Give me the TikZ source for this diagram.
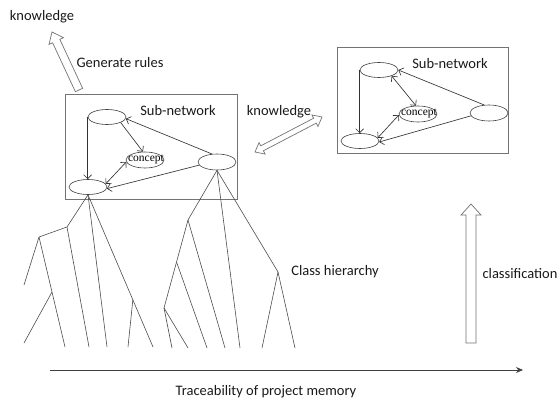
\documentclass[tikz,border=0pt]{standalone}
\usepackage{fontspec}
\setmainfont{Carlito}
\newfontfamily\conceptfont{Liberation Serif}
\usetikzlibrary{arrows.meta,calc,shapes.geometric}
\newcommand{\myhollow}[5]{%
  \coordinate (#1H) at ($(#2)!#5!(#1)$);
  \draw[hollow] ($(#1)!#3!90:(#2)$) -- ($(#1H)!#3!90:(#2)$) -- ($(#1H)!#4!90:(#2)$) -- (#2)
    -- ($(#1H)!#4!-90:(#2)$) -- ($(#1H)!#3!-90:(#2)$) -- ($(#1)!#3!-90:(#2)$) -- cycle;}
\newcommand{\mydouble}[5]{%
  \coordinate (#1H) at ($(#1)!#5!(#2)$);
  \coordinate (#2H) at ($(#2)!#5!(#1)$);
  \draw[hollow] (#1) -- ($(#1H)!#4!90:(#2)$) -- ($(#1H)!#3!90:(#2)$) -- ($(#2H)!#3!-90:(#1)$)
    -- ($(#2H)!#4!-90:(#1)$) -- (#2) -- ($(#2H)!#4!90:(#1)$) -- ($(#2H)!#3!90:(#1)$)
    -- ($(#1H)!#3!-90:(#2)$) -- ($(#1H)!#4!-90:(#2)$) -- cycle;}
\begin{document}
\begin{tikzpicture}[x=1pt,y=-1pt,
  lbl/.style={font=\fontsize{14.5}{17}\selectfont, text=black!90, inner sep=0pt},
  ell/.style={draw=black!75, fill=white, ellipse, minimum width=38pt, minimum height=15pt, inner sep=0pt, line width=0.6pt},
  cpt/.style={font=\conceptfont\fontsize{11.5}{13}\selectfont, inner sep=0pt},
  netbox/.style={draw=black!55, line width=0.9pt, inner sep=0pt},
  edge/.style={draw=black!80, line width=0.65pt, -{Straight Barb[length=4pt,width=8pt]}},
  dedge/.style={draw=black!80, line width=0.65pt, {Straight Barb[length=4pt,width=8pt]}-{Straight Barb[length=4pt,width=8pt]}},
  branch/.style={draw=black!70, line width=0.6pt},
  hollow/.style={draw=black!55, fill=white, line width=0.7pt, line join=miter},
  axis/.style={draw=black!75, line width=0.8pt, -{Stealth[length=7pt,width=6pt]}}]
\useasboundingbox (0,0) rectangle (559,401);

% boxes
\node[netbox, minimum width=172pt, minimum height=105pt] (boxL) at (151,146.5) {};
\node[netbox, minimum width=171pt, minimum height=106pt] (boxR) at (422.5,100) {};

% left sub-network
\node[lbl] (subL) at (178,111) {Sub-network};
\node[ell] (tl) at (107,117) {};
\node[ell, minimum height=16pt] (cc) at (145,160) {};
\node[cpt] (cctext) at (146,159) {concept};
\node[ell, minimum height=16pt] (rr) at (217,162) {};
\node[ell] (bl) at (88,187) {};
\draw[edge] (tl.west) -- (tl.west |- bl.north);
\draw[edge] (tl.-22) -- (cc.104);
\draw[dedge] (cc.186) -- (bl.10);
\draw[edge] (rr.122) -- (tl.-5);
\draw[edge] (rr.190) -- (bl.-5);

% right sub-network
\node[lbl] (subR) at (450,64) {Sub-network};
\node[ell] (tl2) at (379,70) {};
\node[ell, minimum height=16pt] (cc2) at (418,114) {};
\node[cpt] (cc2text) at (419,113) {concept};
\node[ell, minimum height=16pt] (rr2) at (489,113) {};
\node[ell] (bl2) at (360,141) {};
\draw[edge] (tl2.west) -- (tl2.west |- bl2.north);
\draw[dedge] (tl2.-25) -- (cc2.104);
\draw[dedge] (cc2.183) -- (bl2.10);
\draw[edge] (rr2.121) -- (tl2.0);
\draw[edge] (rr2.189) -- (bl2.-3);

% left tree
\coordinate (L1) at (67,227);
\coordinate (L2) at (39,237);
\coordinate (La) at (24,285);
\coordinate (Lb) at (65,347);
\coordinate (Lbb) at ($(L2)!0.5!(Lb)$);
\coordinate (Lc) at (24,343);
\coordinate (Ld) at (89,347);
\coordinate (Le) at (107,347);
\coordinate (Lf) at (153,347);
\coordinate (Lfb) at ($(bl.south)!0.69!(Lf)$);
\coordinate (Lg) at (128,347);
\draw[branch] (bl.south) -- (L1) -- (L2) -- (La);
\draw[branch] (L2) -- (Lb);
\draw[branch] (Lbb) -- (Lc);
\draw[branch] (L1) -- (Ld);
\draw[branch] (bl.south) -- (Le);
\draw[branch] (bl.south) -- (Lf);
\draw[branch] (Lfb) -- (Lg);

% right tree
\coordinate (R1) at (188,220);
\coordinate (R3) at (164,308);
\coordinate (R2) at ($(R1)!0.477!(R3)$);
\coordinate (Ra) at (225,348);
\coordinate (Rb) at (207,348);
\coordinate (Rc) at (172,348);
\coordinate (Rd) at (188,348);
\coordinate (Re) at (240,348);
\coordinate (R4) at (278,272);
\coordinate (Rf) at (262,348);
\coordinate (Rg) at (295,348);
\draw[branch] (rr.south) -- (R1) -- (R3) -- (Rc);
\draw[branch] (R3) -- (Rd);
\draw[branch] (R1) -- (Ra);
\draw[branch] (R2) -- (Rb);
\draw[branch] (rr.south) -- (Re);
\draw[branch] (rr.south) -- (R4) -- (Rf);
\draw[branch] (R4) -- (Rg);

% labels
\node[lbl] (know1) at (42,17) {knowledge};
\node[lbl] (gen) at (120,63) {Generate rules};
\node[lbl] (know2) at (279,112) {knowledge};
\node[lbl] (cls) at (335,272) {Class hierarchy};
\node[lbl] (clf) at (520,274) {classification};
\node[lbl] (trace) at (266,392) {Traceability of project memory};

% hollow arrows
\coordinate (grT) at (79,90);
\coordinate (grP) at (52,32);
\myhollow{grT}{grP}{4pt}{8pt}{10pt}
\coordinate (kA) at (255,152);
\coordinate (kB) at (322,117);
\mydouble{kA}{kB}{2.8pt}{6.5pt}{8pt}
\coordinate (clT) at (471,343);
\coordinate (clP) at (471,204);
\myhollow{clT}{clP}{5pt}{10pt}{11pt}

% axis
\coordinate (axL) at (50,370);
\coordinate (axR) at (523,370);
\draw[axis] (axL) -- (axR);
\end{tikzpicture}
\end{document}
